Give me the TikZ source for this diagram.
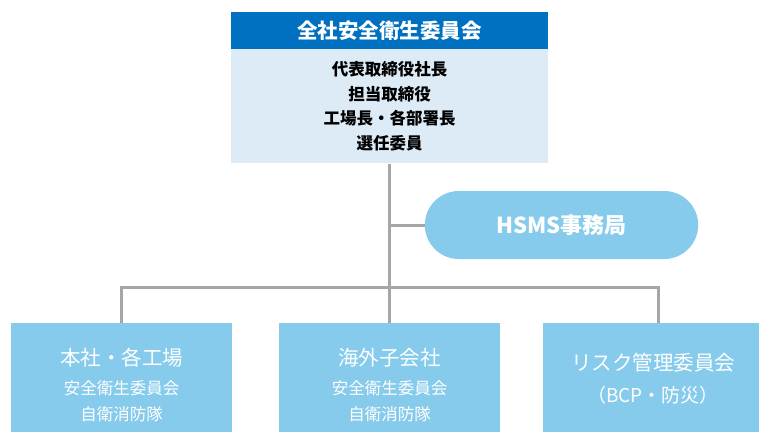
\documentclass[tikz,border=0pt]{standalone}
\usepackage{fontspec}
\setmainfont{Noto Sans CJK JP}
\usepackage{tikz}
\usetikzlibrary{shapes, positioning, calc}
\definecolor{headblue}{HTML}{0070C0}
\definecolor{paleblue}{HTML}{DDEBF7}
\definecolor{skyblue}{HTML}{86CBEC}
\definecolor{linegray}{HTML}{A6A6A6}
\tikzstyle{header} = [rectangle, minimum width=317pt, minimum height=37pt, text centered, fill=headblue, text=white, font=\bfseries\fontsize{20.5}{22}\selectfont, inner sep=0pt]
\tikzstyle{member} = [rectangle, minimum width=317pt, minimum height=114pt, text centered, align=center, fill=paleblue, font=\bfseries\fontsize{16.5}{24.5}\selectfont, inner sep=0pt]
\tikzstyle{unit} = [rectangle, minimum width=221pt, text centered, align=center, fill=skyblue, text=white, font=\fontsize{16.5}{26}\selectfont, inner sep=0pt]
\tikzstyle{office} = [rounded rectangle, minimum width=280pt, minimum height=68pt, fill=skyblue, text=white, font=\bfseries\fontsize{22}{24}\selectfont]
\tikzstyle{link} = [draw=linegray, line width=3pt]

\begin{document}
\begin{tikzpicture}[x=1pt, y=-1pt]
\useasboundingbox (0,0) rectangle (759,431);
\node (head) [header] at (389.5,30.5) {全社安全衛生委員会};
\node (body) [member, below=0pt of head] {代表取締役社長\\担当取締役\\工場長・各部署長\\選任委員};
\node (hsms) [office] at (561.5,225) {HSMS事務局};
\node (plant) [unit, minimum height=124pt] at (121.5,385) {{\fontsize{20.5}{22}\selectfont 本社・各工場}\\[3pt]安全衛生委員会\\自衛消防隊};
\node (abroad) [unit, minimum height=124pt] at (389.5,385) {{\fontsize{20.5}{22}\selectfont 海外子会社}\\[3pt]安全衛生委員会\\自衛消防隊};
\node (risk) [unit, minimum height=112pt] at (653,379) {{\fontsize{20.5}{22}\selectfont リスク管理委員会}\\[6pt]{\fontsize{19}{22}\selectfont （BCP・防災）}};
\coordinate (bus) at (389.5,287);
\draw[link] (body.south) -- (abroad.north);
\draw[link] (hsms.west) -- (hsms.west -| body.south);
\draw[link] (plant.north) |- (bus) -| (risk.north -| 658,0);
\end{tikzpicture}
\end{document}
